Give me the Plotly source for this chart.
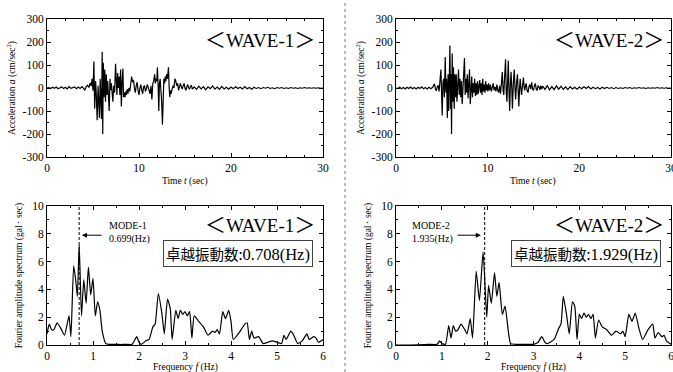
import numpy as np
import plotly.graph_objects as go

# ---------------- data ----------------
# WAVE-1 acceleration: quiet lead-in (0.2 s grid from 0 s)
wave1_pre = [0, 2, -2, 3, -1, 4, -3, 2, 5, -2, 3, -4, 6, -1, 2, 5, -3, 4, -2, 6]
# strong motion part [time, acc]
wave1_main = [
    [4.0, -3], [4.1, -10], [4.25, 5], [4.4, 12], [4.55, 2], [4.7, 22], [4.8, 8], [4.9, 40],
    [5.0, -12], [5.1, 115], [5.18, -90], [5.28, 30], [5.35, -20], [5.45, -140], [5.55, 10],
    [5.62, -60], [5.7, -130], [5.78, 40], [5.85, -20], [5.92, -135], [6.0, 158], [6.06, -200],
    [6.12, 110], [6.2, -40], [6.28, 80], [6.36, -60], [6.45, 60], [6.52, -30], [6.6, 30],
    [6.68, -40], [6.76, -100], [6.85, 40], [6.92, -10], [7.0, 20], [7.08, -40], [7.16, -60],
    [7.25, 10], [7.35, -20], [7.45, 105], [7.52, 20], [7.6, -30], [7.68, 65], [7.76, 0],
    [7.84, 50], [7.92, -30], [8.0, 80], [8.08, -80], [8.16, 20], [8.25, 85], [8.32, -40],
    [8.4, -20], [8.48, -40], [8.56, -15], [8.64, -30], [8.72, -5], [8.8, -25], [8.9, 0],
    [9.0, -15], [9.1, 20], [9.2, 50], [9.3, 25], [9.4, 35], [9.5, 0], [9.6, -20], [9.7, 10],
    [9.8, 25], [9.9, -10], [10.0, -30], [10.1, 0], [10.2, 15], [10.3, -10], [10.4, -25],
    [10.5, 5], [10.6, 10], [10.7, -15], [10.8, -5], [10.9, 15], [11.0, 5], [11.1, -10],
    [11.2, -25], [11.3, 10], [11.4, -50], [11.5, 20], [11.6, 30], [11.7, 60], [11.78, 20],
    [11.86, 40], [11.94, 30], [12.0, 90], [12.08, 10], [12.15, -100], [12.22, 20], [12.3, 40],
    [12.38, -10], [12.45, -50], [12.55, -160], [12.62, -20], [12.7, 40], [12.78, 20],
    [12.85, 50], [12.92, 30], [13.0, 60], [13.1, 40], [13.2, 90], [13.28, 0], [13.35, -40],
    [13.42, -10], [13.5, -25], [13.6, -5], [13.7, 10], [13.8, 0], [13.9, 40], [14.0, 30],
    [14.1, 10], [14.2, 20], [14.3, -10], [14.4, 5], [14.5, 20], [14.6, 5], [14.7, -5],
    [14.8, 10], [14.9, 20], [15.0, 0], [15.1, -10], [15.2, 5], [15.3, 15], [15.4, 0],
    [15.5, -5], [15.6, 8], [15.7, 10], [15.8, -5], [15.9, 3],
]
# quiet tail (0.25 s grid from 16 s)
wave1_post = [5, -6, 8, -4, 6, -8, 5, -3, 9, -5, 4, -6, 7, -4, 3, -5, 4, -3, 5, -2, 3, -4,
              6, -3, 2, -5, 3, -2, 2, -3, 2, -1, 3, -2, 1, -3, 2, -1, 2, -2, 1, -2, 2, -1,
              1, -2, 1, -1, 2, -1, 1, -1, 1, -1, 1, -1, 0]

# WAVE-2 acceleration
wave2_pre = [0, -2, 3, -3, 2, -4, 3, -2, 4, -3, 2, -4, 3, -2, 5, -3, 2, -4, 3, -3]
wave2_main = [
    [4.0, 3], [4.1, 10], [4.2, 18], [4.3, -5], [4.4, -12], [4.5, 5], [4.6, 12], [4.7, -15],
    [4.8, 35], [4.9, 80], [4.97, -20], [5.04, -120], [5.12, 20], [5.2, 40], [5.28, -40],
    [5.37, 135], [5.45, -20], [5.52, 40], [5.6, -130], [5.68, 60], [5.75, -100], [5.82, 30],
    [5.88, 185], [5.95, -90], [6.0, 60], [6.06, -200], [6.13, 150], [6.2, -60], [6.27, 90],
    [6.35, -90], [6.42, 60], [6.5, -40], [6.57, 60], [6.65, -60], [6.72, 20], [6.82, 80],
    [6.9, -30], [6.98, 40], [7.06, -40], [7.14, 30], [7.22, -70], [7.3, 20], [7.38, 20],
    [7.47, 130], [7.55, -30], [7.62, 40], [7.7, -20], [7.78, 60], [7.86, -45], [7.94, 20],
    [8.02, 80], [8.1, -70], [8.18, 30], [8.26, 50], [8.34, -40], [8.42, 20], [8.5, -20],
    [8.58, 40], [8.66, -35], [8.74, 20], [8.82, -30], [8.9, 30], [8.98, -25], [9.06, 10],
    [9.14, 35], [9.22, -20], [9.3, 20], [9.38, -30], [9.46, 40], [9.54, -15], [9.62, 15],
    [9.7, -20], [9.78, 30], [9.86, -10], [9.94, 15], [10.02, -15], [10.1, 20], [10.2, -10],
    [10.3, 15], [10.4, -15], [10.5, 10], [10.6, 20], [10.7, -10], [10.8, 5], [10.9, -15],
    [11.0, 15], [11.1, -10], [11.2, -20], [11.3, 10], [11.4, -25], [11.5, 20], [11.6, 70],
    [11.68, -10], [11.76, -30], [11.84, 40], [11.95, 125], [12.03, -20], [12.1, -60],
    [12.18, 30], [12.25, 120], [12.33, -20], [12.4, -100], [12.48, 20], [12.55, 70],
    [12.63, 0], [12.7, -90], [12.8, 20], [12.9, 80], [12.98, 0], [13.05, -50], [13.15, 20],
    [13.25, 60], [13.32, -10], [13.4, -80], [13.48, 0], [13.55, 40], [13.62, 0], [13.7, -30],
    [13.8, 10], [13.9, 45], [13.98, 0], [14.05, -10], [14.12, 10], [14.2, 20], [14.3, -10],
    [14.4, -20], [14.5, 5], [14.6, 15], [14.7, -5], [14.8, 25], [14.9, -5], [15.0, -10],
    [15.1, 10], [15.2, 20], [15.3, -5], [15.4, -10], [15.5, 10], [15.6, 5], [15.7, -8],
    [15.8, 10], [15.9, -5],
]
wave2_post = [8, -6, 10, -8, 6, -7, 9, -5, 8, -6, 5, -7, 6, -4, 3, -5, 4, -3, 5, -2, 6, -4,
              3, -3, 2, -4, 3, -2, 3, -2, 2, -3, 2, -2, 1, -2, 2, -1, 2, -2, 1, -1, 2, -1,
              1, -2, 1, -1, 1, -1, 2, -1, 1, -1, 1, -1, 0]

# Fourier amplitude spectra [freq Hz, amplitude]
spec1 = [
    [0, 0.8], [0.05, 1.5], [0.1, 1.1], [0.15, 1.1], [0.22, 1.6], [0.3, 1.2], [0.38, 0.7],
    [0.45, 1.7], [0.48, 2.1], [0.52, 0.6], [0.58, 5.7], [0.63, 4.5], [0.66, 3.5], [0.7, 7.2],
    [0.75, 2.1], [0.8, 4.7], [0.85, 3.0], [0.9, 5.6], [0.95, 3.6], [1.0, 4.8], [1.05, 2.1],
    [1.1, 3.1], [1.15, 2.5], [1.2, 1.0], [1.28, 0.1], [1.35, 0.05], [1.5, 0.05], [1.6, 0.03],
    [1.7, 0.05], [1.85, 0.05], [1.95, 0.6], [2.0, 0.2], [2.05, 0.05], [2.15, 0.3], [2.22, 0.4],
    [2.3, 1.3], [2.35, 1.5], [2.42, 3.7], [2.5, 2.2], [2.55, 0.8], [2.62, 3.3], [2.68, 2.6],
    [2.72, 0.4], [2.8, 2.5], [2.85, 1.9], [2.9, 2.5], [2.95, 2.2], [3.0, 2.4], [3.05, 2.1],
    [3.1, 2.4], [3.15, 0.5], [3.2, 2.1], [3.3, 1.7], [3.4, 1.3], [3.5, 0.7], [3.6, 1.0],
    [3.65, 0.9], [3.7, 1.1], [3.75, 0.8], [3.82, 2.4], [3.88, 1.9], [3.95, 2.5], [4.0, 1.7],
    [4.05, 0.4], [4.2, 1.0], [4.3, 1.5], [4.35, 1.6], [4.4, 0.4], [4.45, 1.0], [4.5, 0.5],
    [4.6, 0.6], [4.7, 0.1], [4.8, 0.2], [4.9, 0.3], [5.0, 0.2], [5.1, 0.1], [5.15, 0.7],
    [5.2, 0.4], [5.3, 1.0], [5.35, 0.8], [5.45, 0.1], [5.55, 0.3], [5.65, 0.8], [5.7, 0.4],
    [5.8, 0.6], [5.85, 0.5], [5.9, 0.2], [6.0, 0.4],
]
spec2 = [
    [0, 0.0], [0.3, 0.0], [0.6, 0.02], [0.7, 0.05], [0.9, 0.05], [0.95, 0.3], [1.0, 0.1],
    [1.08, 0.05], [1.15, 1.4], [1.2, 0.5], [1.25, 1.4], [1.3, 1.0], [1.35, 1.1], [1.42, 1.5],
    [1.5, 1.1], [1.55, 0.8], [1.62, 1.9], [1.67, 0.5], [1.75, 5.3], [1.82, 3.2], [1.9, 6.7],
    [1.98, 2.0], [2.02, 4.3], [2.08, 3.0], [2.15, 5.2], [2.2, 3.5], [2.25, 4.5], [2.32, 2.2],
    [2.38, 2.8], [2.45, 1.0], [2.5, 0.1], [2.6, 0.05], [2.8, 0.05], [3.0, 0.05], [3.1, 0.2],
    [3.18, 0.6], [3.25, 0.2], [3.3, 0.1], [3.45, 0.4], [3.55, 1.2], [3.6, 1.5], [3.65, 3.5],
    [3.72, 2.2], [3.78, 0.8], [3.85, 3.1], [3.9, 2.8], [3.95, 0.4], [4.0, 2.2], [4.05, 1.9],
    [4.1, 2.3], [4.15, 2.0], [4.2, 2.2], [4.25, 1.9], [4.3, 2.2], [4.35, 0.5], [4.42, 1.8],
    [4.5, 1.3], [4.6, 1.1], [4.7, 0.7], [4.8, 1.0], [4.9, 0.8], [4.95, 1.0], [5.0, 0.6],
    [5.08, 2.2], [5.15, 1.7], [5.22, 2.3], [5.3, 1.2], [5.38, 0.4], [5.5, 1.1], [5.6, 1.5],
    [5.65, 0.5], [5.72, 0.9], [5.8, 0.6], [5.85, 0.7], [5.9, 0.3], [6.0, 0.05],
]

mode_freqs = [0.699, 1.935]
mode_labels = ["MODE-1<br>0.699(Hz)", "MODE-2<br>1.935(Hz)"]
dominant_labels = ["0.708(Hz)", "1.929(Hz)"]
wave_names = ["WAVE-1", "WAVE-2"]

acc_ticks = [-300, -200, -100, 0, 100, 200, 300]
acc_ticktext = ["-300", "-200", "-100", "0", "100", "200", "300"]
time_ticks = [0, 10, 20, 30]
amp_ticks = [0, 2, 4, 6, 8, 10]
freq_ticks = [0, 1, 2, 3, 4, 5, 6]


def build_series(pre, main, post):
    t = list(0.2 * np.arange(len(pre))) + [p[0] for p in main] + list(16 + 0.25 * np.arange(len(post)))
    a = list(pre) + [p[1] for p in main] + list(post)
    return t, a


t1, a1 = build_series(wave1_pre, wave1_main, wave1_post)
t2, a2 = build_series(wave2_pre, wave2_main, wave2_post)

W, H = 673, 372


def px(x):
    return x / W


def py(y):
    return 1 - y / H


SERIF = "Liberation Serif, Times New Roman, serif"
CJK = "Noto Sans CJK JP"

fig = go.Figure()
line = dict(color="black", width=1.2)
fig.add_trace(go.Scatter(x=t1, y=a1, mode="lines", line=line, xaxis="x", yaxis="y"))
fig.add_trace(go.Scatter(x=t2, y=a2, mode="lines", line=line, xaxis="x2", yaxis="y2"))
sline = dict(color="black", width=1.2, shape="spline", smoothing=0.5)
fig.add_trace(go.Scatter(x=[p[0] for p in spec1], y=[p[1] for p in spec1], mode="lines",
                         line=sline, xaxis="x3", yaxis="y3"))
fig.add_trace(go.Scatter(x=[p[0] for p in spec2], y=[p[1] for p in spec2], mode="lines",
                         line=sline, xaxis="x4", yaxis="y4"))

left_dom = [px(47), px(323)]
right_dom = [px(396), px(671)]
top_dom = [py(157), py(19)]
bot_dom = [py(345), py(206)]

tickfont = dict(family=SERIF, size=11.5, color="black")
titlefont = dict(family=SERIF, size=9.5, color="black")


def ax_common(**kw):
    d = dict(showline=True, linecolor="black", linewidth=1, mirror="allticks",
             ticks="inside", ticklen=4, tickcolor="black", showgrid=False, zeroline=False,
             tickfont=tickfont, fixedrange=True, automargin=False, ticklabeloverflow="allow")
    d.update(kw)
    return d


def minor(dt):
    return dict(dtick=dt, tick0=0, ticks="inside", ticklen=2, tickcolor="black")


acc_title = dict(text="Acceleration <i>a</i> (cm/sec<sup>2</sup>)", font=titlefont, standoff=5)
fas_title = dict(text="Fourier amplitude spectrum (gal･ sec)", font=titlefont, standoff=7)

layout = dict(
    width=W, height=H, margin=dict(l=0, r=0, t=0, b=0, autoexpand=False),
    paper_bgcolor="white", plot_bgcolor="white", showlegend=False,
    xaxis=ax_common(domain=left_dom, anchor="y", range=[0, 30], tickmode="array",
                    tickvals=time_ticks, minor=minor(2)),
    yaxis=ax_common(domain=top_dom, anchor="x", range=[-300, 300], tickmode="array",
                    tickvals=acc_ticks, ticktext=acc_ticktext, minor=minor(50), title=acc_title),
    xaxis2=ax_common(domain=right_dom, anchor="y2", range=[0, 30], tickmode="array",
                     tickvals=time_ticks, minor=minor(2)),
    yaxis2=ax_common(domain=top_dom, anchor="x2", range=[-300, 300], tickmode="array",
                     tickvals=acc_ticks, ticktext=acc_ticktext, minor=minor(50), title=acc_title),
    xaxis3=ax_common(domain=left_dom, anchor="y3", range=[0, 6], tickmode="array",
                     tickvals=freq_ticks, minor=minor(0.5)),
    yaxis3=ax_common(domain=bot_dom, anchor="x3", range=[0, 10], tickmode="array",
                     tickvals=amp_ticks, minor=minor(1), title=fas_title),
    xaxis4=ax_common(domain=right_dom, anchor="y4", range=[0, 6], tickmode="array",
                     tickvals=freq_ticks, minor=minor(0.5)),
    yaxis4=ax_common(domain=bot_dom, anchor="x4", range=[0, 10], tickmode="array",
                     tickvals=amp_ticks, minor=minor(1), title=fas_title),
)
fig.update_layout(**layout)

# divider
fig.add_shape(type="line", xref="paper", yref="paper", x0=px(345), x1=px(345), y0=0, y1=1,
              line=dict(color="#777", width=1, dash="3px,3px"))
# mode lines
for xa, ya, f in [("x3", "y3", mode_freqs[0]), ("x4", "y4", mode_freqs[1])]:
    fig.add_shape(type="line", xref=xa, yref=ya, x0=f, x1=f, y0=0, y1=10,
                  line=dict(color="black", width=1, dash="3px,2px"))

ann = []
# x-axis titles
for xc in [185, 533]:
    ann.append(dict(xref="paper", yref="paper", x=px(xc), y=py(181), showarrow=False,
                    xanchor="center", yanchor="middle", text="Time <i>t</i> (sec)", font=titlefont))
    ann.append(dict(xref="paper", yref="paper", x=px(xc), y=py(367.5), showarrow=False,
                    xanchor="center", yanchor="middle", text="Frequency <i>f</i> (Hz)", font=titlefont))

wavefont = dict(family=SERIF, size=19, color="black")
br = f"font-family:{CJK}; font-size:21px"
for i, (cx, bx) in enumerate([(260, 237.5), (609, 585.5)]):
    label = f"<span style='{br}'>＜</span>{wave_names[i]}<span style='{br}'>＞</span>"
    ann.append(dict(xref="paper", yref="paper", x=px(cx), y=py(38), showarrow=False,
                    xanchor="center", yanchor="middle", text=label, font=wavefont))
    ann.append(dict(xref="paper", yref="paper", x=px(cx), y=py(223), showarrow=False,
                    xanchor="center", yanchor="middle", text=label, font=wavefont))
    ann.append(dict(xref="paper", yref="paper", x=px(bx), y=py(254), showarrow=False,
                    xanchor="center", yanchor="middle",
                    text=f"<span style='font-family:{CJK}; font-size:14.5px'>卓越振動数:</span>"
                         f"{dominant_labels[i]}",
                    font=dict(family=SERIF, size=16.5, color="black"),
                    bordercolor="#444", borderwidth=1, borderpad=2, bgcolor="white"))

modefont = dict(family=SERIF, size=10, color="black")
# MODE-1 arrow and label
ann.append(dict(xref="x3", yref="y3", x=0.76, y=7.9, ax=1.22, ay=7.9, axref="x3", ayref="y3",
                text="", showarrow=True, arrowhead=2, arrowsize=1, arrowwidth=1, arrowcolor="black"))
ann.append(dict(xref="x3", yref="y3", x=1.3, y=8.1, xanchor="left", yanchor="middle",
                showarrow=False, align="left", text=mode_labels[0], font=modefont))
# MODE-2 arrow and label
ann.append(dict(xref="x4", yref="y4", x=1.85, y=7.9, ax=1.31, ay=7.9, axref="x4", ayref="y4",
                text="", showarrow=True, arrowhead=2, arrowsize=1, arrowwidth=1, arrowcolor="black"))
ann.append(dict(xref="x4", yref="y4", x=0.31, y=8.1, xanchor="left", yanchor="middle",
                showarrow=False, align="left", text=mode_labels[1], font=modefont))

fig.update_layout(annotations=ann)
fig.write_html("out.html", config={"displayModeBar": False},
               post_script="document.body.style.margin='0';document.body.style.padding='0';"
                           "document.body.style.overflow='hidden';")
